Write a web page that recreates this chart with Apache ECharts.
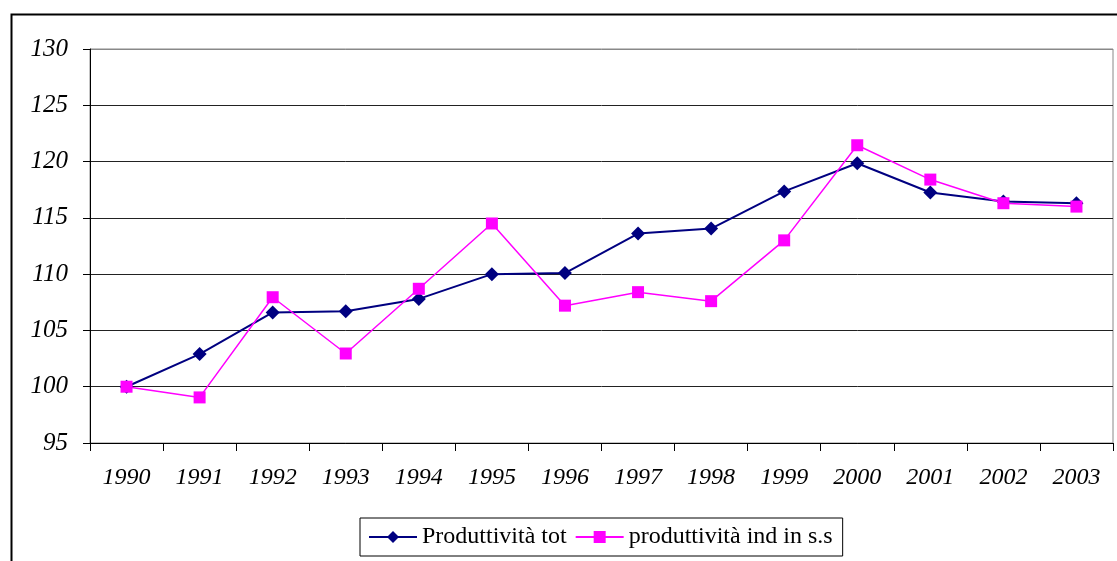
<!DOCTYPE html>
<html>
<head>
<meta charset="utf-8">
<script src="https://cdn.jsdelivr.net/npm/echarts@6/dist/echarts.min.js"></script>
<style>
  html, body { margin: 0; padding: 0; background: #fff; }
  #chart { width: 1117px; height: 561px; }
</style>
</head>
<body>
<div id="chart"></div>
<script>
// anni sull'asse x
const years = ['1990', '1991', '1992', '1993', '1994', '1995', '1996',
               '1997', '1998', '1999', '2000', '2001', '2002', '2003'];

// valori (1990 = 100)
const produttivitaTot = [100, 102.9, 106.6, 106.7, 107.8, 110.0, 110.1,
                         113.6, 114.05, 117.35, 119.85, 117.25, 116.45, 116.3];
const produttivitaInd = [100, 99.05, 107.95, 102.95, 108.7, 114.5, 107.2,
                         108.4, 107.6, 113.0, 121.45, 118.4, 116.3, 116.0];

const serifFont = '"Liberation Serif", "DejaVu Serif", serif';

const chart = echarts.init(document.getElementById('chart'));

chart.setOption({
    animation: false,
    backgroundColor: '#fff',
    graphic: [{
        // cornice esterna del grafico
        type: 'rect',
        left: 9, top: 12,
        shape: { width: 1120, height: 570 },
        style: { fill: 'none', stroke: '#000', lineWidth: 2 },
        silent: true
    }],
    grid: {
        left: 90, right: 4, top: 49, bottom: 118,
        show: true, borderColor: '#888', borderWidth: 1,
        containLabel: false
    },
    legend: {
        left: 360, top: 518,
        itemWidth: 48, itemHeight: 15, itemGap: 8,
        padding: [7, 10, 7, 8],
        borderColor: '#000', borderWidth: 1,
        textStyle: { fontFamily: serifFont, fontSize: 24, color: '#000' },
        data: ['Produttività tot', 'produttività ind in s.s']
    },
    xAxis: {
        type: 'category',
        data: years,
        boundaryGap: true,
        axisLine: { lineStyle: { color: '#000', width: 1 } },
        axisTick: { show: true, length: 8, alignWithLabel: false, lineStyle: { color: '#000' } },
        axisLabel: {
            margin: 23, color: '#000',
            fontFamily: serifFont, fontStyle: 'italic', fontSize: 24
        },
        splitLine: { show: false }
    },
    yAxis: {
        type: 'value',
        min: 95, max: 130, interval: 5,
        axisLine: { show: true, lineStyle: { color: '#000', width: 1 } },
        axisTick: { show: true, length: 7, lineStyle: { color: '#000' } },
        axisLabel: {
            margin: 22, color: '#000',
            fontFamily: serifFont, fontStyle: 'italic', fontSize: 25
        },
        splitLine: {
            show: true,
            lineStyle: {
                color: ['#222', '#222', '#222', '#222', '#222', '#222', '#222', '#888'],
                width: 1
            }
        }
    },
    series: [
        {
            name: 'Produttività tot',
            type: 'line',
            data: produttivitaTot,
            symbol: 'diamond',
            symbolSize: 14,
            color: '#000080',
            lineStyle: { color: '#000080', width: 2 },
            itemStyle: { color: '#000080' },
            z: 3
        },
        {
            name: 'produttività ind in s.s',
            type: 'line',
            data: produttivitaInd,
            symbol: 'rect',
            symbolSize: 12,
            color: '#ff00ff',
            lineStyle: { color: '#ff00ff', width: 1.5 },
            itemStyle: { color: '#ff00ff' },
            z: 4
        }
    ]
});
</script>
</body>
</html>
